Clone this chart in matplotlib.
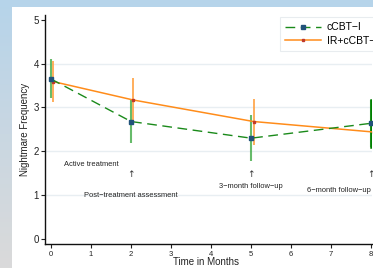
import matplotlib
matplotlib.use("Agg")
import matplotlib.pyplot as plt
import numpy as np
from matplotlib.colors import LinearSegmentedColormap

months = [0, 2, 5, 8]
ccbt_mean = [3.65, 2.68, 2.30, 2.64]
ccbt_lo = [3.22, 2.18, 1.79, 2.11]
ccbt_hi = [4.11, 3.18, 2.83, 3.17]
ir_mean = [3.59, 3.17, 2.68, 2.44]
ir_lo = [3.13, 2.66, 2.15, 1.95]
ir_hi = [4.05, 3.68, 3.19, 2.95]
series_names = ["cCBT\u2212I", "IR+cCBT\u2212I"]
offset = 0.06

notes = [("Active treatment", 1.0, 1.70), ("Post\u2212treatment assessment", 2.0, 0.99),
         ("3\u2212month follow\u2212up", 5.0, 1.19), ("6\u2212month follow\u2212up", 7.2, 1.10)]
arrow_x = [2, 5, 8]

plt.rcParams['font.family'] = ['Liberation Sans', 'DejaVu Sans']

W, H = 373, 268
fig = plt.figure(figsize=(W/100, H/100), dpi=100)
fig.patch.set_facecolor('white')

# background bands
bg = fig.add_axes([0, 0, 1, 1], zorder=-10)
bg.set_axis_off()
bg.set_xlim(0, W); bg.set_ylim(H, 0)
grad = np.linspace(0, 1, 100)[:, None]
cm = LinearSegmentedColormap.from_list('g', ['#b6d4ea', '#c9d7e2', '#dadada'])
bg.imshow(grad, cmap=cm, extent=[0, 12, H, 0], aspect='auto')
bg.add_patch(plt.Rectangle((0, 0), W, 7, color='#b6d4ea', lw=0))

x0, x1 = -0.15, 8.02
ax = fig.add_axes([45/W, 24/H, (372-45)/W, (244-15)/H])
ax.set_xlim(x0, x1)
ax.set_ylim(-0.114, 5.11)

for g in [1, 2, 3, 4]:
    ax.axhline(g, color='#e8eef2', lw=1.0, zorder=0)

m = np.array(ccbt_mean)
ax.errorbar(months, ccbt_mean, yerr=[m - np.array(ccbt_lo), np.array(ccbt_hi) - m],
            fmt='none', ecolor='#4caf50', elinewidth=1.5, alpha=0.85, zorder=2)
ax.plot([8, 8], [ccbt_lo[3], ccbt_hi[3]], color='#008000', lw=1.8, zorder=2)
ir_x = [v + offset for v in months]
mi = np.array(ir_mean)
ax.errorbar(ir_x, ir_mean, yerr=[mi - np.array(ir_lo), np.array(ir_hi) - mi],
            fmt='none', ecolor='#ffa040', elinewidth=1.4, alpha=0.85, zorder=2)

ax.plot(ir_x, ir_mean, color='#ff8c1a', lw=1.1, marker='s', ms=1.6,
        mfc='#c0392b', mec='#c0392b', label=series_names[1], zorder=3)
ax.plot(months, ccbt_mean, color='#1a8a1a', lw=1.0, ls=(0, (7, 4)), marker='s', ms=2.8,
        mfc='#21527a', mec='#21527a', label=series_names[0], zorder=4)

for t, xx, yy in notes:
    ax.text(xx, yy, t, fontsize=5.4, ha='center', va='center', color='#222222')
for xa in arrow_x:
    ax.text(xa, 1.48, "\u2191", fontsize=6.5, ha='center', va='center', color='#333333',
            family=['DejaVu Sans'])

h, l = ax.get_legend_handles_labels()
leg = ax.legend([h[1], h[0]], [l[1], l[0]], loc='upper left',
                bbox_to_anchor=((280-45)/327, (244-17)/229), fontsize=7.5,
                frameon=True, fancybox=False, edgecolor='#e3e8ec', handlelength=3.4,
                borderpad=0.5, labelspacing=0.35, handletextpad=0.6, borderaxespad=0)
leg.get_frame().set_linewidth(0.8)

ax.set_xticks(range(0, 9))
ax.set_yticks(range(0, 6))
ax.tick_params(axis='x', labelsize=5.5, length=3, width=0.8, pad=2, colors='#222222')
ax.tick_params(axis='y', labelsize=7, length=3, width=0.8, pad=1.5, colors='#222222')
for s in ['top', 'right']:
    ax.spines[s].set_visible(False)
for s in ['left', 'bottom']:
    ax.spines[s].set_linewidth(1.0)
    ax.spines[s].set_color('#111111')

ax.set_ylabel("Nightmare Frequency", fontsize=7, color='#222222')
ax.yaxis.set_label_coords(-(45-30)/327, 0.5)
ax.set_xlabel("Time in Months", fontsize=7, color='#222222')
ax.xaxis.set_label_coords((206-45)/327, -(257-244)/229)

fig.savefig("out.png", dpi=100, facecolor=fig.get_facecolor())
